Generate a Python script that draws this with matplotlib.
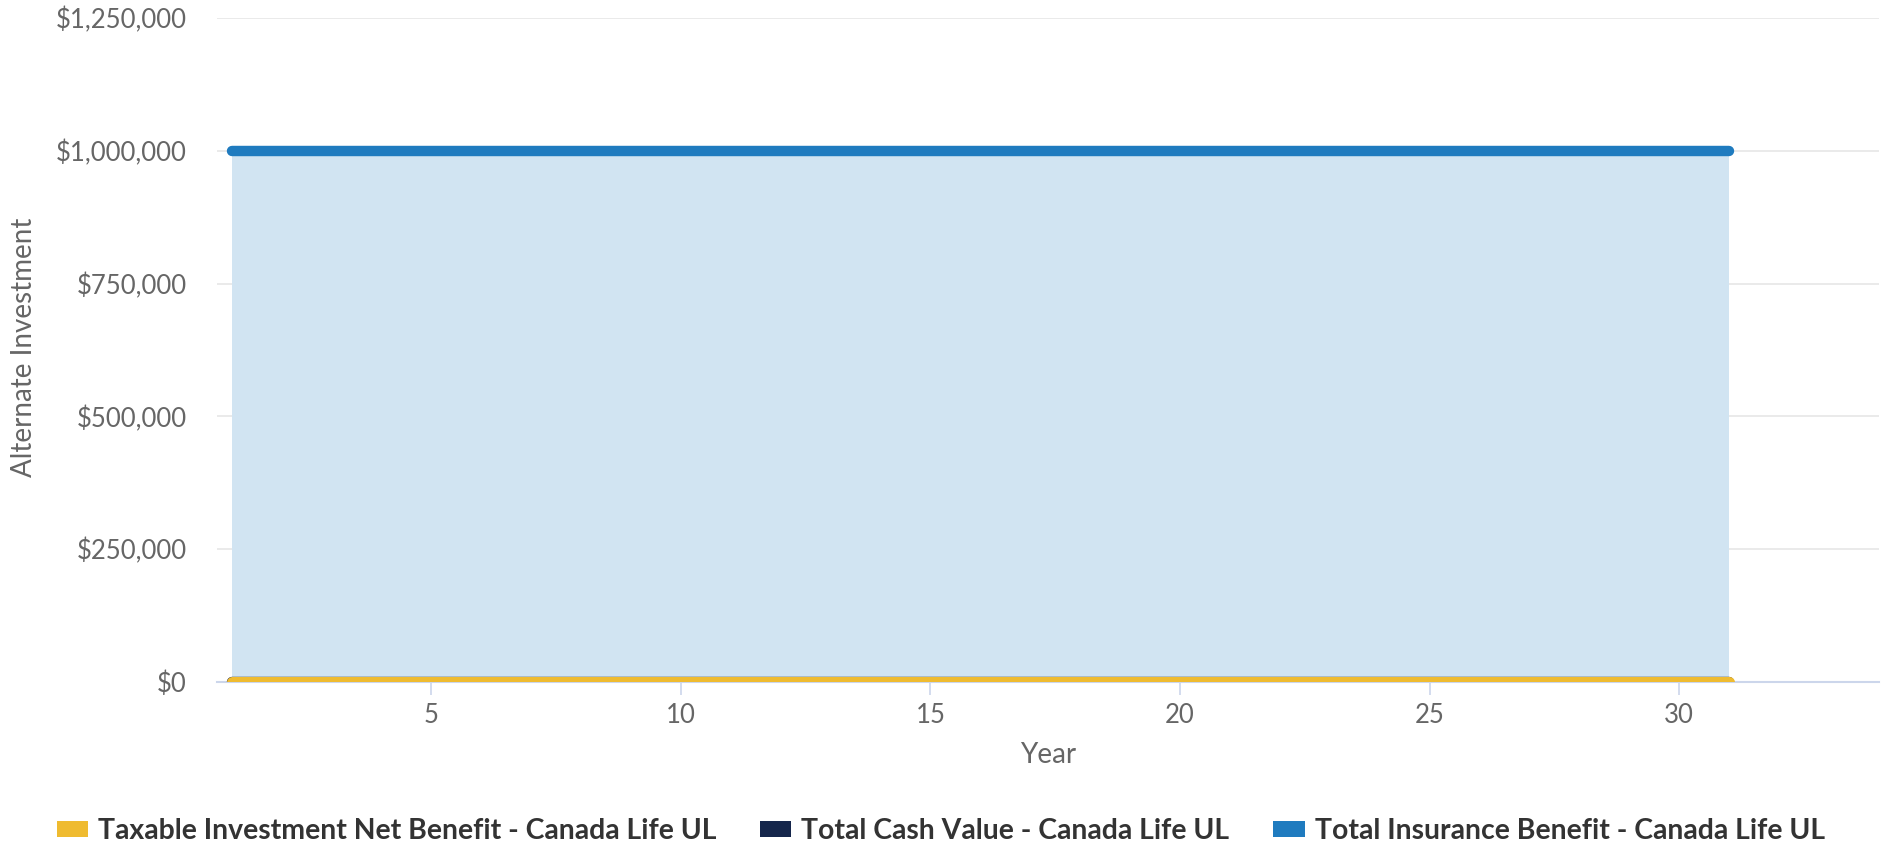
import numpy as np
import matplotlib.pyplot as plt
from matplotlib.patches import Patch
from matplotlib.ticker import FuncFormatter

plt.rcParams['font.family'] = ['Lato', 'DejaVu Sans']

# dane
years = list(range(1, 32))
taxable_net_benefit = [0] * 31
total_cash_value = [0] * 31
total_insurance_benefit = [1000000] * 31

series_names = ['Taxable Investment Net Benefit - Canada Life UL',
                'Total Cash Value - Canada Life UL',
                'Total Insurance Benefit - Canada Life UL']
y_ticks = [0, 250000, 500000, 750000, 1000000, 1250000]
x_ticks = [5, 10, 15, 20, 25, 30]

yellow = '#efbb30'
navy = '#15264b'
blue = '#1f7bbf'
fill_blue = '#d1e4f2'
label_color = '#666666'

fig = plt.figure(figsize=(18.89, 8.46), dpi=100)
ax = fig.add_axes([0.1149, 0.1939, 0.8798, 0.7848])

# obszar i linie
ax.fill_between(years, 0, total_insurance_benefit, color=fill_blue, linewidth=0, zorder=1)
ax.plot(years, total_insurance_benefit, color=blue, linewidth=7.5, solid_capstyle='round', zorder=4)
ax.plot(years, total_cash_value, color=navy, linewidth=7.5, solid_capstyle='round', zorder=3)
ax.plot(years, taxable_net_benefit, color=yellow, linewidth=8, solid_capstyle='round', zorder=5)

ax.set_xlim(0.71, 34)
ax.set_ylim(0, 1250000)
ax.set_xticks(x_ticks)
ax.set_yticks(y_ticks)
ax.yaxis.set_major_formatter(FuncFormatter(lambda v, p: '${:,.0f}'.format(v)))

ax.grid(axis='y', color='#e6e6e6', linewidth=1.2, zorder=0)
ax.set_axisbelow(True)
for side in ['top', 'right', 'left']:
    ax.spines[side].set_visible(False)
ax.spines['bottom'].set_color('#ccd6eb')
ax.spines['bottom'].set_linewidth(1.5)
ax.spines['bottom'].set_zorder(2)

ax.tick_params(axis='x', length=9, width=1.2, color='#ccd6eb', pad=6,
               labelsize=18.5, labelcolor=label_color)
ax.tick_params(axis='y', length=0, pad=22, labelsize=18.5, labelcolor=label_color)

fig.text(24 / 1889, 0.59, 'Alternate Investment', rotation=90,
         ha='center', va='center', fontsize=20, color=label_color)
fig.text(0.1149 + 0.8798 / 2, 1 - 755 / 846, 'Year', ha='center', va='center',
         fontsize=20, color=label_color)

handles = [Patch(facecolor=c, edgecolor='none') for c in [yellow, navy, blue]]
leg = fig.legend(handles, series_names, loc='center', bbox_to_anchor=(0.498, 1 - 831 / 846),
                 ncol=3, frameon=False, handlelength=1.1, handleheight=0.45,
                 handletextpad=0.35, columnspacing=1.55,
                 prop={'weight': 'bold', 'size': 20.4})
for t in leg.get_texts():
    t.set_color('#333333')

fig.savefig('out.png', dpi=100)
